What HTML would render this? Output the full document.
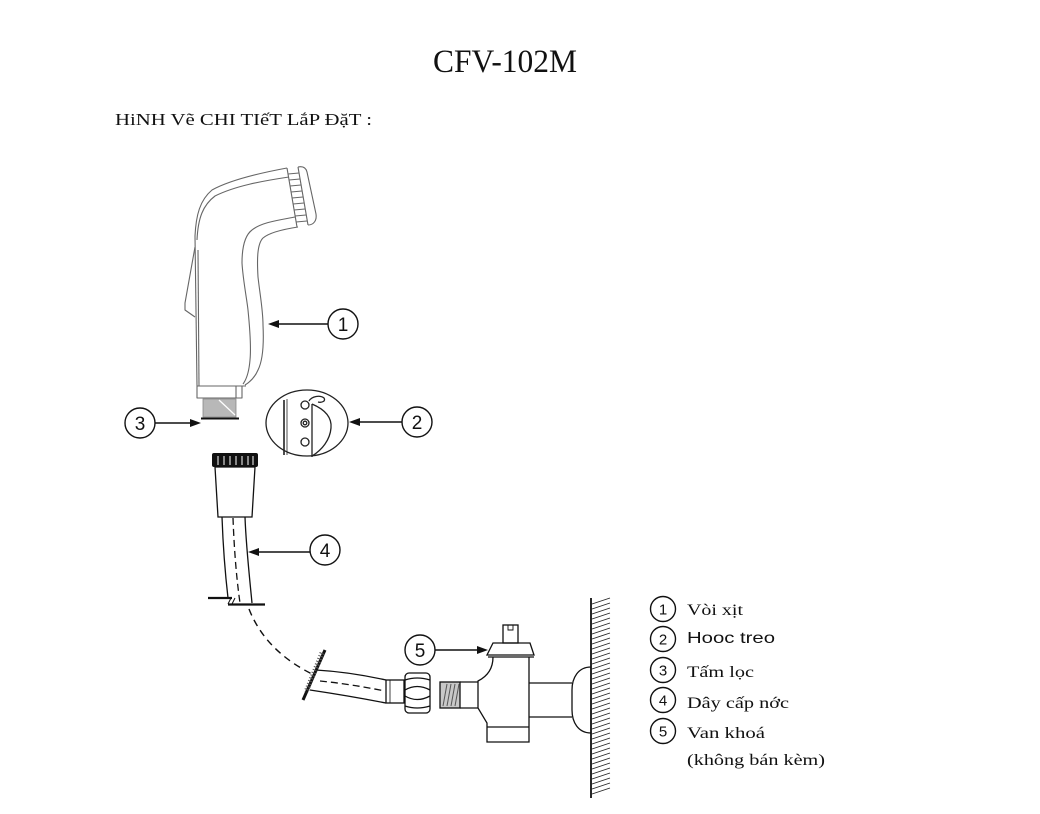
<!DOCTYPE html>
<html>
<head>
<meta charset="utf-8">
<style>
html,body{margin:0;padding:0;background:#fff;}
svg{display:block;}
</style>
</head>
<body>
<svg width="1040" height="814" viewBox="0 0 1040 814" xmlns="http://www.w3.org/2000/svg">
<rect width="1040" height="814" fill="#fff"/>

<!-- Title -->
<text x="433" y="72" font-family="Liberation Serif, serif" font-size="33" textLength="144" lengthAdjust="spacingAndGlyphs" fill="#111">CFV-102M</text>
<text x="115" y="125" font-family="Liberation Serif, serif" font-size="17" textLength="257" lengthAdjust="spacingAndGlyphs" fill="#111">HiNH Vẽ CHI TIếT LắP ĐặT :</text>

<!-- Sprayer (1) -->
<g fill="none" stroke="#666" stroke-width="1.1" stroke-linejoin="round">
  <path d="M195,236 C196,215 200,200 212,190 C230,180 260,173 287,168"/>
  <path d="M197,240 C198,218 203,205 215,196 C235,186 262,181 289,177"/>
  <path d="M287,168 L297,227"/>
  <path d="M298,167 L308,225"/>
  <path d="M298,167 C303,166 306,168 307,172 L316,214 C317,220 314,225 308,225"/>
  <g stroke-width="0.9">
    <line x1="288" y1="174" x2="299" y2="173"/>
    <line x1="289" y1="180" x2="300" y2="179"/>
    <line x1="290" y1="186" x2="301" y2="185"/>
    <line x1="291" y1="192" x2="302" y2="191"/>
    <line x1="292" y1="198" x2="303" y2="197"/>
    <line x1="293" y1="204" x2="304" y2="203"/>
    <line x1="294" y1="210" x2="305" y2="209"/>
    <line x1="295" y1="216" x2="306" y2="215"/>
    <line x1="296" y1="222" x2="307" y2="221"/>
  </g>
  <path d="M295,217 C280,220 262,222 252,230 C244,236 242,250 242,263 C243,280 247,300 248,310 C250,330 251,350 250,360 C249,372 246,380 243,384"/>
  <path d="M298,227 C285,229 270,232 263,238 C257,244 257,260 258,277 C260,295 263,310 263,325 C264,345 263,360 258,370 C255,377 250,382 245,385"/>
  <path d="M195,236 L197,386"/>
  <path d="M198,250 L199,386"/>
  <path d="M195,247 L185,303 L185,310 L195,317"/>
  <path d="M197,386 L246,386"/>
  <path d="M197,386 L197,398 L242,398 L242,386"/>
  <path d="M236,386 L236,398"/>
</g>
<!-- filter (3) -->
<polygon points="203,399 236,399 236,417 203,417" fill="#b8b8b8" stroke="#888" stroke-width="0.8"/>
<line x1="219" y1="400" x2="235" y2="415" stroke="#fff" stroke-width="1.3"/>
<line x1="201" y1="418.5" x2="239" y2="418.5" stroke="#111" stroke-width="2"/>

<!-- Holder (2) -->
<g fill="none" stroke="#222" stroke-width="1.3">
  <ellipse cx="307" cy="423" rx="41" ry="33"/>
  <line x1="284" y1="400" x2="284" y2="455" stroke-width="1.6"/>
  <line x1="287" y1="399" x2="287" y2="455" stroke-width="0.8"/>
  <line x1="312" y1="404" x2="312" y2="457"/>
  <path d="M312,404 C326,410 332,418 331,428 C330,440 322,450 312,456"/>
  <path d="M309,401 C312,396 320,395 324,398 C326,401 322,403 318,402"/>
  <circle cx="305" cy="405" r="4"/>
  <circle cx="305" cy="423" r="4"/>
  <circle cx="305" cy="423" r="1.8"/>
  <circle cx="305" cy="442" r="4"/>
</g>

<!-- Hose nut knurl -->
<rect x="212" y="453" width="46" height="14" rx="2" fill="#111"/>
<g stroke="#fff" stroke-width="1">
  <line x1="218" y1="456" x2="218" y2="465"/>
  <line x1="224" y1="456" x2="224" y2="465"/>
  <line x1="230" y1="456" x2="230" y2="465"/>
  <line x1="236" y1="456" x2="236" y2="465"/>
  <line x1="242" y1="456" x2="242" y2="465"/>
  <line x1="248" y1="456" x2="248" y2="465"/>
  <line x1="253" y1="456" x2="253" y2="465"/>
</g>
<g fill="none" stroke="#111" stroke-width="1.3">
  <polygon points="215,467 255,467 252,517 218,517"/>
  <path d="M222,517 C223,545 225,572 228,598"/>
  <path d="M245,517 C246,545 249,572 252,603"/>
  <path d="M233,518 C234,545 236,575 240,603" stroke-dasharray="7,4"/>
</g>
<line x1="208" y1="598" x2="232" y2="598" stroke="#111" stroke-width="2.2"/>
<line x1="228" y1="604.5" x2="265" y2="604.5" stroke="#111" stroke-width="2.2"/>
<path d="M231,598 L228,604 M235,598 L232,604" stroke="#111" stroke-width="1"/>

<path d="M249,609 C258,632 276,656 312,674" fill="none" stroke="#111" stroke-width="1.4" stroke-dasharray="7,5"/>

<line x1="325" y1="650" x2="303" y2="700" stroke="#111" stroke-width="3"/>
<line x1="322" y1="653" x2="306" y2="692" stroke="#555" stroke-width="5" stroke-dasharray="1,2"/>

<g fill="none" stroke="#111" stroke-width="1.3">
  <path d="M316,670 Q350,672 386,680"/>
  <path d="M310,690 Q350,696 386,703"/>
  <path d="M320,681 Q350,684 385,691" stroke-dasharray="7,4"/>
  <rect x="386" y="680" width="18" height="23"/>
  <line x1="390" y1="680" x2="390" y2="703" stroke-width="0.8"/>
  <rect x="405" y="673" width="25" height="40" rx="4"/>
  <path d="M405,680 Q417,676 430,680"/>
  <path d="M405,690 Q417,683 430,690"/>
  <path d="M405,696 Q417,703 430,696"/>
  <path d="M405,706 Q417,710 430,706"/>
</g>

<rect x="440" y="682" width="20" height="26" fill="#c8c8c8" stroke="#111" stroke-width="1.3"/>
<g stroke="#555" stroke-width="1">
  <line x1="443" y1="706" x2="447" y2="684"/>
  <line x1="447" y1="706" x2="451" y2="684"/>
  <line x1="451" y1="706" x2="455" y2="684"/>
  <line x1="455" y1="706" x2="459" y2="684"/>
</g>
<g fill="none" stroke="#111" stroke-width="1.3">
  <line x1="460" y1="682" x2="478" y2="682"/>
  <line x1="460" y1="708" x2="478" y2="708"/>
  <rect x="503" y="625" width="15" height="18"/>
  <path d="M508,625 L508,630 L513,630 L513,625" stroke-width="0.9"/>
  <polygon points="493,643 530,643 534,655 487,655"/>
  <line x1="488" y1="657" x2="534" y2="657"/>
  <path d="M493,657 C493,668 488,676 478,681 L478,708 L487,723 L487,742 L529,742 L529,657"/>
  <line x1="487" y1="727" x2="529" y2="727"/>
  <path d="M529,683 L572,683 M529,717 L572,717"/>
  <path d="M591,667 C578,667 572,678 572,690 L572,710 C572,722 578,733 591,733"/>
  <line x1="591" y1="598" x2="591" y2="798" stroke-width="1.8"/>
</g>
<g stroke="#222" stroke-width="0.9">
  <line x1="592" y1="604" x2="610" y2="598"/>
  <line x1="592" y1="609" x2="610" y2="603"/>
  <line x1="592" y1="614" x2="610" y2="608"/>
  <line x1="592" y1="619" x2="610" y2="613"/>
  <line x1="592" y1="624" x2="610" y2="618"/>
  <line x1="592" y1="629" x2="610" y2="623"/>
  <line x1="592" y1="634" x2="610" y2="628"/>
  <line x1="592" y1="639" x2="610" y2="633"/>
  <line x1="592" y1="644" x2="610" y2="638"/>
  <line x1="592" y1="649" x2="610" y2="643"/>
  <line x1="592" y1="654" x2="610" y2="648"/>
  <line x1="592" y1="659" x2="610" y2="653"/>
  <line x1="592" y1="664" x2="610" y2="658"/>
  <line x1="592" y1="669" x2="610" y2="663"/>
  <line x1="592" y1="674" x2="610" y2="668"/>
  <line x1="592" y1="679" x2="610" y2="673"/>
  <line x1="592" y1="684" x2="610" y2="678"/>
  <line x1="592" y1="689" x2="610" y2="683"/>
  <line x1="592" y1="694" x2="610" y2="688"/>
  <line x1="592" y1="699" x2="610" y2="693"/>
  <line x1="592" y1="704" x2="610" y2="698"/>
  <line x1="592" y1="709" x2="610" y2="703"/>
  <line x1="592" y1="714" x2="610" y2="708"/>
  <line x1="592" y1="719" x2="610" y2="713"/>
  <line x1="592" y1="724" x2="610" y2="718"/>
  <line x1="592" y1="729" x2="610" y2="723"/>
  <line x1="592" y1="734" x2="610" y2="728"/>
  <line x1="592" y1="739" x2="610" y2="733"/>
  <line x1="592" y1="744" x2="610" y2="738"/>
  <line x1="592" y1="749" x2="610" y2="743"/>
  <line x1="592" y1="754" x2="610" y2="748"/>
  <line x1="592" y1="759" x2="610" y2="753"/>
  <line x1="592" y1="764" x2="610" y2="758"/>
  <line x1="592" y1="769" x2="610" y2="763"/>
  <line x1="592" y1="774" x2="610" y2="768"/>
  <line x1="592" y1="779" x2="610" y2="773"/>
  <line x1="592" y1="784" x2="610" y2="778"/>
  <line x1="592" y1="789" x2="610" y2="783"/>
  <line x1="592" y1="794" x2="610" y2="788"/>
</g>

<!-- Callouts -->
<g stroke="#111" stroke-width="1.4" fill="none">
  <line x1="278" y1="324" x2="328" y2="324"/>
  <circle cx="343" cy="324" r="15"/>
  <line x1="155" y1="423" x2="192" y2="423"/>
  <circle cx="140" cy="423" r="15"/>
  <line x1="358" y1="422" x2="402" y2="422"/>
  <circle cx="417" cy="422" r="15"/>
  <line x1="258" y1="552" x2="310" y2="552"/>
  <circle cx="325" cy="550" r="15"/>
  <line x1="435" y1="650" x2="479" y2="650"/>
  <circle cx="420" cy="650" r="15"/>
</g>
<g fill="#111">
  <polygon points="268,324 279,320 279,328"/>
  <polygon points="201,423 190,419 190,427"/>
  <polygon points="349,422 360,418 360,426"/>
  <polygon points="248,552 259,548 259,556"/>
  <polygon points="488,650 477,646 477,654"/>
</g>
<g font-family="Liberation Sans, sans-serif" font-size="19" fill="#111" text-anchor="middle">
  <text x="343" y="331">1</text>
  <text x="140" y="430">3</text>
  <text x="417" y="429">2</text>
  <text x="325" y="557">4</text>
  <text x="420" y="657">5</text>
</g>

<!-- Legend -->
<g stroke="#111" stroke-width="1.4" fill="none">
  <circle cx="663" cy="609" r="12.5"/>
  <circle cx="663" cy="639" r="12.5"/>
  <circle cx="663" cy="670" r="12.5"/>
  <circle cx="663" cy="700" r="12.5"/>
  <circle cx="663" cy="731" r="12.5"/>
</g>
<g font-family="Liberation Sans, sans-serif" font-size="15" fill="#111" text-anchor="middle">
  <text x="663" y="614.5">1</text>
  <text x="663" y="644.5">2</text>
  <text x="663" y="675.5">3</text>
  <text x="663" y="705.5">4</text>
  <text x="663" y="736.5">5</text>
</g>
<g font-family="Liberation Serif, serif" font-size="16" fill="#111">
  <text x="687" y="615" textLength="56" lengthAdjust="spacingAndGlyphs">Vòi xịt</text>
  <text x="687" y="677" textLength="67" lengthAdjust="spacingAndGlyphs">Tấm lọc</text>
  <text x="687" y="708" textLength="102" lengthAdjust="spacingAndGlyphs">Dây cấp nớc</text>
  <text x="687" y="738" textLength="78" lengthAdjust="spacingAndGlyphs">Van khoá</text>
  <text x="687" y="765" textLength="138" lengthAdjust="spacingAndGlyphs">(không bán kèm)</text>
</g>
<text x="687" y="643" font-family="Liberation Sans, sans-serif" font-size="16" textLength="88" lengthAdjust="spacingAndGlyphs" fill="#111">Hooc treo</text>
</svg>
</body>
</html>
